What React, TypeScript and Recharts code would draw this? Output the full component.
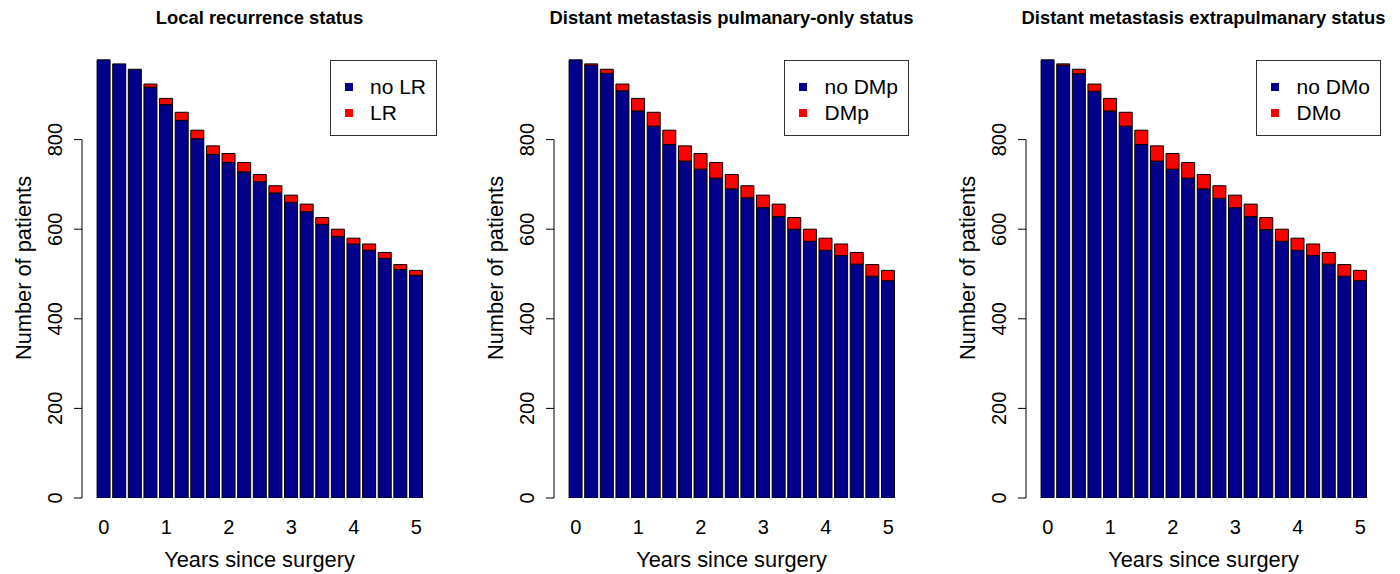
import { BarChart, Bar, XAxis, YAxis, ReferenceLine, Label } from "recharts";

const YEARS = ["0", "0.25", "0.5", "0.75", "1", "1.25", "1.5", "1.75", "2", "2.25", "2.5", "2.75", "3", "3.25", "3.5", "3.75", "4", "4.25", "4.5", "4.75", "5"];
const AT_RISK = [978, 969, 957, 924, 892, 861, 821, 786, 769, 749, 722, 697, 676, 656, 626, 600, 580, 567, 548, 521, 508];
const LR = [0, 0, 0, 7, 14, 18, 19, 19, 20, 21, 16, 16, 16, 17, 15, 16, 13, 14, 13, 11, 11];
const DMP = [0, 3, 9, 15, 28, 31, 32, 34, 35, 35, 32, 27, 28, 28, 26, 27, 27, 26, 26, 26, 23];
const DMO = [0, 3, 10, 16, 28, 31, 32, 34, 35, 35, 32, 28, 28, 28, 27, 27, 27, 26, 26, 26, 23];
const Y_TICKS = [0, 200, 400, 600, 800];

const FONT = '"Liberation Sans", Arial, Helvetica, sans-serif';
const BLUE = "#00008B";
const RED = "#FF0000";
const W = 456;
const H = 574;
const PLOT_L = 82;
const PLOT_R = 437;

const XTick = ({ x, y, payload }: any) => (
  <text x={x} y={y + 36} textAnchor="middle" fontSize={20} fontFamily={FONT} fill="#000">
    {payload.value}
  </text>
);

const YTick = ({ x, y, payload }: any) => (
  <text
    x={x - 12}
    y={y}
    transform={`rotate(-90, ${x - 12}, ${y})`}
    textAnchor="middle"
    fontSize={20}
    fontFamily={FONT}
    fill="#000"
  >
    {payload.value}
  </text>
);

function Panel({ title, names, events, left }: { title: string; names: string[]; events: number[]; left: number }) {
  const data = YEARS.map((year, i) => ({ year, free: AT_RISK[i] - events[i], event: events[i] }));
  return (
    <div style={{ position: "absolute", left, top: 0, width: W, height: H, fontFamily: FONT }}>
      <div
        style={{
          position: "absolute",
          left: PLOT_L - 40,
          width: PLOT_R - PLOT_L + 80,
          top: 8,
          lineHeight: "20px",
          textAlign: "center",
          fontWeight: "bold",
          fontSize: 18.4,
          whiteSpace: "nowrap",
        }}
      >
        {title}
      </div>
      <BarChart width={W} height={H} data={data} margin={{ top: 50, right: W - PLOT_R, bottom: 0, left: 0 }} barCategoryGap="7%">
        <XAxis
          xAxisId="cat"
          dataKey="year"
          height={76}
          padding={{ left: 14, right: 13 }}
          interval={3}
          tickLine={false}
          axisLine={false}
          tickSize={0}
          tickMargin={0}
          tick={XTick}
        >
          <Label
            content={({ viewBox }: any) => (
              <text
                x={viewBox.x + viewBox.width / 2}
                y={viewBox.y + 69}
                textAnchor="middle"
                fontSize={21.8}
                fontFamily={FONT}
                fill="#000"
              >
                Years since surgery
              </text>
            )}
          />
        </XAxis>
        <XAxis xAxisId="ln" type="number" domain={[0, 1]} hide />
        <YAxis
          width={PLOT_L}
          domain={[0, 1000]}
          ticks={Y_TICKS}
          allowDataOverflow
          axisLine={false}
          tickSize={8}
          tickMargin={0}
          tickLine={{ stroke: "#000" }}
          tick={YTick}
        >
          <Label
            content={({ viewBox }: any) => {
              const cx = 31;
              const cy = viewBox.y + viewBox.height / 2 - 6;
              return (
                <text x={cx} y={cy} transform={`rotate(-90, ${cx}, ${cy})`} textAnchor="middle" fontSize={21.8} fontFamily={FONT} fill="#000">
                  Number of patients
                </text>
              );
            }}
          />
        </YAxis>
        <ReferenceLine
          xAxisId="ln"
          segment={[
            { x: 0, y: 0 },
            { x: 0, y: 800 },
          ]}
          stroke="#000"
          strokeWidth={1}
          ifOverflow="visible"
        />
        <Bar xAxisId="cat" dataKey="free" stackId="s" fill={BLUE} stroke="#000" strokeWidth={1} isAnimationActive={false} />
        <Bar xAxisId="cat" dataKey="event" stackId="s" fill={RED} stroke="#000" strokeWidth={1} isAnimationActive={false} />
      </BarChart>
      <div
        style={{
          position: "absolute",
          top: 60,
          right: W - PLOT_R,
          border: "1px solid #333",
          padding: "13px 10px 9px 14px",
          background: "#fff",
        }}
      >
        {names.map((n, i) => (
          <div key={n} style={{ display: "flex", alignItems: "center", height: 26, fontSize: 21, whiteSpace: "nowrap" }}>
            <span style={{ width: 8, height: 8, background: i === 0 ? BLUE : RED, marginRight: 17 }} />
            <span>{n}</span>
          </div>
        ))}
      </div>
    </div>
  );
}

export default function App() {
  return (
    <div style={{ position: "absolute", left: 0, top: 0, width: 1400, height: 574, background: "#fff", overflow: "hidden" }}>
      <Panel title="Local recurrence status" names={["no LR", "LR"]} events={LR} left={0} />
      <Panel title="Distant metastasis pulmanary-only status" names={["no DMp", "DMp"]} events={DMP} left={472} />
      <Panel title="Distant metastasis extrapulmanary status" names={["no DMo", "DMo"]} events={DMO} left={944} />
    </div>
  );
}
